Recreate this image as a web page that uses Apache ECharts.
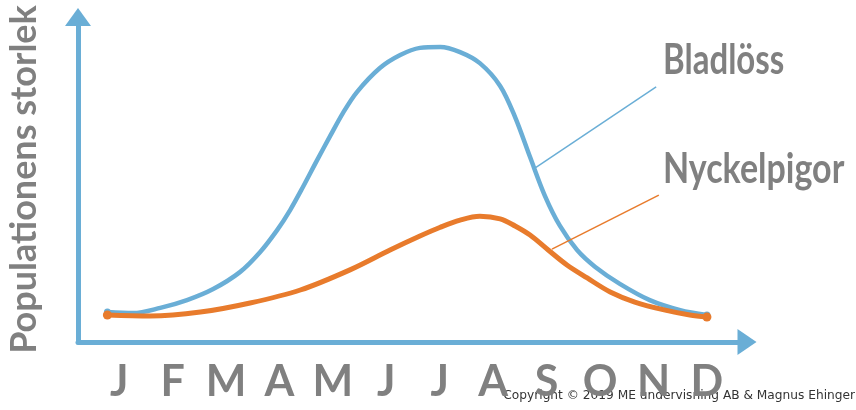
<!DOCTYPE html>
<html>
<head>
<meta charset="utf-8">
<script src="https://cdn.jsdelivr.net/npm/echarts@6/dist/echarts.min.js"></script>
<style>
  html, body { margin: 0; padding: 0; background: #fff; }
  #chart-container { width: 856px; height: 410px; }
</style>
</head>
<body>
<div id="chart-container"></div>
<script>
var months = ['J', 'F', 'M', 'A', 'M', 'J', 'J', 'A', 'S', 'O', 'N', 'D'];
var monthTicks = [0, 1, 2, 3, 4, 5, 6, 7, 8, 9, 10, 11];

// Bladlöss (aphids), x in months from J = 0
var aphidX = [-0.22, 0.26, 0.77, 1.27, 1.76, 2.26, 2.64, 2.96, 3.20, 3.44, 3.70, 3.95,
              4.19, 4.45, 4.88, 5.26, 5.63, 6.01, 6.38, 6.75, 7.13, 7.41, 7.69, 7.97,
              8.25, 8.57, 8.91, 9.37, 9.93, 10.50, 11.0];
var aphidY = [9.2, 8.9, 10.5, 12.9, 16.3, 21.5, 27.7, 34.5, 40.6, 47.7, 55.8, 63.4,
              70.5, 76.9, 84.3, 88.3, 90.5, 90.8, 89.2, 85.8, 78.8, 69.2, 56.9, 44.9,
              35.7, 28.3, 23.1, 17.9, 12.9, 9.8, 8.3];

// Nyckelpigor (ladybirds)
var ladyX = [-0.22, 0.58, 1.52, 2.45, 3.39, 4.32, 5.07, 5.63, 6.01, 6.38, 6.75, 7.13,
             7.41, 7.69, 8.03, 8.38, 8.76, 9.19, 9.65, 10.22, 10.68, 11.0];
var ladyY = [8.3, 8.0, 9.2, 12.0, 16.0, 22.2, 28.3, 32.6, 35.3, 37.5, 38.7, 37.9,
             35.7, 32.9, 28.3, 23.7, 19.7, 15.4, 12.3, 9.8, 8.3, 7.7];

// leader lines from curve to label
var aphidPointer = [[7.78, 53.5], [10.05, 78.5]];
var ladyPointer = [[8.10, 28.6], [10.10, 45.2]];

var blue = '#6aaed6';
var orange = '#e87b2c';
var grey = '#808080';
var handFont = "Lato, 'DejaVu Sans', sans-serif";

function toPoints(xs, ys, dotSize) {
  return xs.map(function (x, i) {
    var last = i === 0 || i === xs.length - 1;
    return { value: [x, ys[i]], symbol: last ? 'circle' : 'none', symbolSize: dotSize };
  });
}

var chartDom = document.getElementById('chart-container');
var myChart = echarts.init(chartDom);
var option = {
  animation: false,
  grid: { left: 78, right: 109, top: 17, bottom: 68, outerBoundsMode: 'none' },
  xAxis: {
    type: 'value',
    min: -0.77,
    max: 11.75,
    splitLine: { show: false },
    axisTick: { show: false },
    axisLine: {
      onZero: false,
      symbol: ['none', 'triangle'],
      symbolSize: [26, 19],
      lineStyle: { color: blue, width: 5, cap: 'round' }
    },
    axisLabel: {
      customValues: monthTicks,
      formatter: function (v) { return months[Math.round(v)]; },
      color: grey,
      fontFamily: handFont,
      fontWeight: 'bold',
      fontSize: 43,
      margin: 19
    }
  },
  yAxis: {
    type: 'value',
    min: 0,
    max: 100,
    name: 'Populationens storlek',
    nameLocation: 'middle',
    nameRotate: 90,
    nameGap: 36,
    nameTextStyle: { color: grey, fontFamily: handFont, fontWeight: 'bold', fontSize: 36 },
    splitLine: { show: false },
    axisTick: { show: false },
    axisLabel: { show: false },
    axisLine: {
      show: true,
      onZero: false,
      symbol: ['none', 'triangle'],
      symbolSize: [26, 18],
      lineStyle: { color: blue, width: 5, cap: 'round' }
    }
  },
  series: [
    {
      name: 'Bladlöss',
      type: 'line',
      smooth: 0.33,
      data: toPoints(aphidX, aphidY, 7),
      itemStyle: { color: blue },
      lineStyle: { color: blue, width: 4.5, cap: 'round' },
      markLine: {
        silent: true,
        symbol: 'none',
        label: { show: false },
        lineStyle: { color: blue, width: 1.5, type: 'solid' },
        data: [[{ coord: aphidPointer[0] }, { coord: aphidPointer[1] }]]
      }
    },
    {
      name: 'Nyckelpigor',
      type: 'line',
      smooth: 0.33,
      data: toPoints(ladyX, ladyY, 9),
      itemStyle: { color: orange },
      lineStyle: { color: orange, width: 5, cap: 'round' },
      markLine: {
        silent: true,
        symbol: 'none',
        label: { show: false },
        lineStyle: { color: orange, width: 1.5, type: 'solid' },
        data: [[{ coord: ladyPointer[0] }, { coord: ladyPointer[1] }]]
      }
    }
  ],
  graphic: [
    {
      type: 'text', x: 663, y: 40, scaleY: 1.25,
      style: { text: 'Bladlöss', fill: grey, font: 'bold 33px ' + handFont, verticalAlign: 'top' }
    },
    {
      type: 'text', x: 663, y: 148, scaleY: 1.25,
      style: { text: 'Nyckelpigor', fill: grey, font: 'bold 34px ' + handFont, verticalAlign: 'top' }
    },
    {
      type: 'text', right: 1, top: 390,
      style: { text: 'Copyright © 2019 ME undervisning AB & Magnus Ehinger', fill: '#333', font: '12.2px "DejaVu Sans", Verdana, sans-serif' }
    }
  ]
};

option && myChart.setOption(option);
</script>
</body>
</html>
